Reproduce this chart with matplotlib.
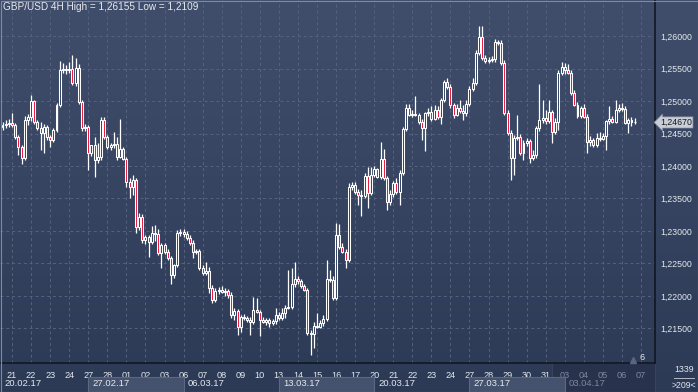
import matplotlib
matplotlib.use("Agg")
import matplotlib.pyplot as plt
import matplotlib.transforms as mtransforms
from matplotlib.colors import LinearSegmentedColormap
from matplotlib.patches import Rectangle
from matplotlib.lines import Line2D
import numpy as np
import pandas as pd

plt.rcParams['font.family'] = ['Liberation Sans', 'DejaVu Sans']

# GBP/USD 4H candles, 20.02.17 12:00 .. 06.04.17 16:00
opens = [1.2460, 1.2463, 1.2465, 1.2466, 1.2463, 1.2445, 1.2429, 1.2412, 1.2471, 1.2475,
         1.2500, 1.2468, 1.2458, 1.2451, 1.2460, 1.2445, 1.2440, 1.2455, 1.2494, 1.2548,
         1.2549, 1.2548, 1.2549, 1.2528, 1.2551, 1.2498, 1.2458, 1.2460, 1.2420, 1.2432,
         1.2409, 1.2414, 1.2471, 1.2445, 1.2429, 1.2432, 1.2434, 1.2414, 1.2426, 1.2411,
         1.2375, 1.2368, 1.2378, 1.2306, 1.2322, 1.2286, 1.2291, 1.2283, 1.2297, 1.2295,
         1.2266, 1.2278, 1.2268, 1.2258, 1.2232, 1.2248, 1.2297, 1.2298, 1.2295, 1.2289,
         1.2282, 1.2268, 1.2269, 1.2243, 1.2235, 1.2238, 1.2212, 1.2194, 1.2208, 1.2209,
         1.2206, 1.2208, 1.2202, 1.2171, 1.2177, 1.2152, 1.2168, 1.2166, 1.2163, 1.2160,
         1.2178, 1.2175, 1.2163, 1.2160, 1.2163, 1.2158, 1.2162, 1.2171, 1.2166, 1.2174,
         1.2182, 1.2183, 1.2218, 1.2226, 1.2223, 1.2215, 1.2209, 1.2143, 1.2142, 1.2154,
         1.2152, 1.2158, 1.2165, 1.2226, 1.2225, 1.2197, 1.2294, 1.2275, 1.2268, 1.2255,
         1.2368, 1.2371, 1.2360, 1.2355, 1.2354, 1.2385, 1.2358, 1.2386, 1.2395, 1.2383,
         1.2411, 1.2382, 1.2345, 1.2357, 1.2374, 1.2360, 1.2389, 1.2457, 1.2489, 1.2478,
         1.2480, 1.2478, 1.2468, 1.2458, 1.2482, 1.2483, 1.2472, 1.2486, 1.2475, 1.2502,
         1.2529, 1.2522, 1.2494, 1.2478, 1.2489, 1.2485, 1.2482, 1.2495, 1.2518, 1.2528,
         1.2574, 1.2598, 1.2566, 1.2562, 1.2563, 1.2565, 1.2591, 1.2589, 1.2558, 1.2482,
         1.2451, 1.2412, 1.2443, 1.2445, 1.2420, 1.2435, 1.2438, 1.2412, 1.2417, 1.2458,
         1.2471, 1.2474, 1.2469, 1.2483, 1.2452, 1.2468, 1.2543, 1.2552, 1.2548, 1.2543,
         1.2512, 1.2494, 1.2477, 1.2489, 1.2475, 1.2437, 1.2440, 1.2432, 1.2443, 1.2442,
         1.2446, 1.2469, 1.2472, 1.2468, 1.2486, 1.2489, 1.2488, 1.2466, 1.2471, 1.2468]
highs = [1.2468, 1.2471, 1.2472, 1.2482, 1.2466, 1.2448, 1.2432, 1.2477, 1.2480, 1.2509,
         1.2502, 1.2471, 1.2468, 1.2465, 1.2463, 1.2448, 1.2458, 1.2497, 1.2562, 1.2558,
         1.2555, 1.2560, 1.2571, 1.2566, 1.2557, 1.2502, 1.2465, 1.2463, 1.2432, 1.2445,
         1.2435, 1.2475, 1.2475, 1.2448, 1.2435, 1.2452, 1.2445, 1.2472, 1.2429, 1.2414,
         1.2382, 1.2386, 1.2382, 1.2328, 1.2326, 1.2294, 1.2294, 1.2308, 1.2309, 1.2303,
         1.2282, 1.2282, 1.2272, 1.2262, 1.2249, 1.2302, 1.2303, 1.2303, 1.2300, 1.2294,
         1.2286, 1.2272, 1.2272, 1.2248, 1.2252, 1.2245, 1.2217, 1.2212, 1.2214, 1.2215,
         1.2212, 1.2211, 1.2206, 1.2182, 1.2180, 1.2171, 1.2172, 1.2169, 1.2168, 1.2198,
         1.2197, 1.2178, 1.2168, 1.2166, 1.2166, 1.2165, 1.2182, 1.2175, 1.2182, 1.2186,
         1.2240, 1.2243, 1.2252, 1.2231, 1.2226, 1.2218, 1.2212, 1.2148, 1.2160, 1.2174,
         1.2163, 1.2171, 1.2255, 1.2240, 1.2231, 1.2312, 1.2311, 1.2282, 1.2272, 1.2374,
         1.2375, 1.2375, 1.2365, 1.2363, 1.2389, 1.2398, 1.2398, 1.2400, 1.2397, 1.2437,
         1.2426, 1.2385, 1.2363, 1.2377, 1.2382, 1.2394, 1.2460, 1.2495, 1.2495, 1.2486,
         1.2508, 1.2482, 1.2472, 1.2483, 1.2489, 1.2492, 1.2494, 1.2492, 1.2505, 1.2532,
         1.2535, 1.2526, 1.2497, 1.2495, 1.2502, 1.2494, 1.2502, 1.2523, 1.2535, 1.2578,
         1.26155, 1.2615, 1.2571, 1.2568, 1.2569, 1.2595, 1.2594, 1.2594, 1.2563, 1.2486,
         1.2455, 1.2448, 1.2478, 1.2449, 1.2440, 1.2443, 1.2442, 1.2425, 1.2462, 1.2526,
         1.2502, 1.2486, 1.2502, 1.2486, 1.2474, 1.2548, 1.2560, 1.2558, 1.2557, 1.2548,
         1.2517, 1.2498, 1.2492, 1.2495, 1.2480, 1.2446, 1.2443, 1.2451, 1.2452, 1.2451,
         1.2471, 1.2492, 1.2477, 1.2502, 1.2495, 1.2497, 1.2492, 1.2474, 1.2475, 1.2474]
lows = [1.2455, 1.2458, 1.2460, 1.2460, 1.2442, 1.2417, 1.2403, 1.2409, 1.2463, 1.2469,
        1.2465, 1.2455, 1.2425, 1.2420, 1.2440, 1.2429, 1.2437, 1.2452, 1.2491, 1.2543,
        1.2542, 1.2543, 1.2525, 1.2523, 1.2495, 1.2454, 1.2454, 1.2394, 1.2415, 1.2383,
        1.2405, 1.2409, 1.2442, 1.2426, 1.2425, 1.2428, 1.2409, 1.2412, 1.2409, 1.2368,
        1.2351, 1.2355, 1.2297, 1.2302, 1.2282, 1.2280, 1.2260, 1.2280, 1.2285, 1.2263,
        1.2243, 1.2265, 1.2255, 1.2218, 1.2228, 1.2245, 1.2292, 1.2291, 1.2286, 1.2278,
        1.2258, 1.2265, 1.2240, 1.2232, 1.2232, 1.2205, 1.2189, 1.2191, 1.2203, 1.2205,
        1.2200, 1.2197, 1.2166, 1.2163, 1.2140, 1.2145, 1.2163, 1.2160, 1.2140, 1.2157,
        1.2174, 1.2138, 1.2158, 1.2155, 1.2152, 1.2155, 1.2157, 1.2163, 1.2163, 1.2166,
        1.2180, 1.2180, 1.2214, 1.2218, 1.2212, 1.2208, 1.2140, 1.2109, 1.2120, 1.2151,
        1.2151, 1.2154, 1.2162, 1.2222, 1.2194, 1.2194, 1.2272, 1.2266, 1.2243, 1.2252,
        1.2363, 1.2357, 1.2340, 1.2323, 1.2351, 1.2335, 1.2355, 1.2383, 1.2382, 1.2380,
        1.2378, 1.2332, 1.2340, 1.2352, 1.2357, 1.2340, 1.2386, 1.2454, 1.2477, 1.2475,
        1.2477, 1.2465, 1.2440, 1.2423, 1.2477, 1.2469, 1.2471, 1.2472, 1.2465, 1.2498,
        1.2518, 1.2489, 1.2474, 1.2477, 1.2482, 1.2471, 1.2477, 1.2492, 1.2515, 1.2525,
        1.2571, 1.2563, 1.2558, 1.2558, 1.2560, 1.2560, 1.2586, 1.2555, 1.2478, 1.2448,
        1.2378, 1.2386, 1.2440, 1.2417, 1.2409, 1.2431, 1.2405, 1.2409, 1.2412, 1.2454,
        1.2466, 1.2465, 1.2466, 1.2435, 1.2449, 1.2455, 1.2540, 1.2542, 1.2542, 1.2509,
        1.2492, 1.2474, 1.2474, 1.2474, 1.2420, 1.2431, 1.2429, 1.2429, 1.2438, 1.2440,
        1.2425, 1.2465, 1.2466, 1.2466, 1.2483, 1.2485, 1.2465, 1.2451, 1.2462, 1.2465]
closes = [1.2463, 1.2465, 1.2466, 1.2463, 1.2445, 1.2429, 1.2412, 1.2471, 1.2475, 1.2500,
          1.2468, 1.2458, 1.2451, 1.2460, 1.2445, 1.2440, 1.2455, 1.2494, 1.2548, 1.2549,
          1.2548, 1.2549, 1.2528, 1.2551, 1.2498, 1.2458, 1.2460, 1.2420, 1.2432, 1.2409,
          1.2414, 1.2471, 1.2445, 1.2429, 1.2432, 1.2434, 1.2414, 1.2426, 1.2411, 1.2375,
          1.2368, 1.2378, 1.2306, 1.2322, 1.2286, 1.2291, 1.2283, 1.2297, 1.2295, 1.2266,
          1.2278, 1.2268, 1.2258, 1.2232, 1.2248, 1.2297, 1.2298, 1.2295, 1.2289, 1.2282,
          1.2268, 1.2269, 1.2243, 1.2235, 1.2238, 1.2212, 1.2194, 1.2208, 1.2209, 1.2206,
          1.2208, 1.2202, 1.2171, 1.2177, 1.2152, 1.2168, 1.2166, 1.2163, 1.2160, 1.2178,
          1.2175, 1.2163, 1.2160, 1.2163, 1.2158, 1.2162, 1.2171, 1.2166, 1.2174, 1.2182,
          1.2183, 1.2218, 1.2226, 1.2223, 1.2215, 1.2209, 1.2143, 1.2142, 1.2154, 1.2152,
          1.2158, 1.2165, 1.2226, 1.2225, 1.2197, 1.2294, 1.2275, 1.2268, 1.2255, 1.2368,
          1.2371, 1.2360, 1.2355, 1.2354, 1.2385, 1.2358, 1.2386, 1.2395, 1.2383, 1.2411,
          1.2382, 1.2345, 1.2357, 1.2374, 1.2360, 1.2389, 1.2457, 1.2489, 1.2478, 1.2480,
          1.2478, 1.2468, 1.2458, 1.2482, 1.2483, 1.2472, 1.2486, 1.2475, 1.2502, 1.2529,
          1.2522, 1.2494, 1.2478, 1.2489, 1.2485, 1.2482, 1.2495, 1.2518, 1.2528, 1.2574,
          1.2598, 1.2566, 1.2562, 1.2563, 1.2565, 1.2591, 1.2589, 1.2558, 1.2482, 1.2451,
          1.2412, 1.2443, 1.2445, 1.2420, 1.2435, 1.2438, 1.2412, 1.2417, 1.2458, 1.2471,
          1.2474, 1.2469, 1.2483, 1.2452, 1.2468, 1.2543, 1.2552, 1.2548, 1.2543, 1.2512,
          1.2494, 1.2477, 1.2489, 1.2475, 1.2437, 1.2440, 1.2432, 1.2443, 1.2442, 1.2446,
          1.2469, 1.2472, 1.2468, 1.2486, 1.2489, 1.2488, 1.2466, 1.2471, 1.2468, 1.2467]

title = "GBP/USD 4H High = 1,26155 Low = 1,2109"
price_ticks = [1.215, 1.22, 1.225, 1.23, 1.235, 1.24, 1.245, 1.25, 1.255, 1.26]
last_price = "1,24670"
bar_count = "1339"
visible_bars = ">209<"
zoom_level = "6"

W, H = 698, 392
n = len(closes)
O, Hh, L, C = map(np.array, (opens, highs, lows, closes))

# 4H bar times, weekdays only (axis also runs a few empty bars past the data)
all_times = pd.date_range("2017-02-20 12:00", "2017-04-10 00:00", freq="4h")
all_times = all_times[all_times.weekday < 5]
x_right = 205.4
axis_times = all_times[: int(x_right) + 1]

fig = plt.figure(figsize=(W / 100, H / 100), dpi=100)

bg = fig.add_axes([0, 0, 1, 1], zorder=0)
cmap = LinearSegmentedColormap.from_list("bg", ["#404e6c", "#2c3a56"])
bg.imshow(np.linspace(0, 1, 256).reshape(-1, 1), aspect="auto", cmap=cmap,
          extent=[0, 1, 0, 1], origin="upper")
bg.set_axis_off()

ax = fig.add_axes([0, (H - 363) / H, 655 / W, 363 / H], zorder=1)
ax.set_facecolor("none")
ax.set_xlim(-0.79, x_right)
ax.set_ylim(1.20969, 1.26554)

# grid
day_idx = [i for i, t in enumerate(axis_times) if t.hour == 0]
ax.set_xticks(day_idx)
ax.set_xticklabels([axis_times[i].strftime("%d") for i in day_idx])
ax.set_yticks(price_ticks)
ax.set_yticklabels([f"{v:.5f}".replace(".", ",") for v in price_ticks])
ax.grid(color="#56637f", lw=0.7, linestyle=(0, (3, 3)))
ax.set_axisbelow(True)

ax.yaxis.tick_right()
ax.tick_params(axis="y", length=0, pad=4, labelsize=6.3, labelcolor="#e4e8ee")
ax.tick_params(axis="x", length=0, pad=5.5, labelsize=6.6, labelcolor="#e4e8ee")
for s in ("top", "left"):
    ax.spines[s].set_visible(False)
for s in ("right", "bottom"):
    ax.spines[s].set_color("#111623")
    ax.spines[s].set_linewidth(1.2)

# candles
x = np.arange(n)
up = C >= O
ax.vlines(x, L, Hh, color="white", lw=0.9, zorder=3)
ax.bar(x, np.abs(C - O), bottom=np.minimum(O, C), width=0.62,
       color=np.where(up, "#34425f", "#e8163b"), edgecolor="white",
       linewidth=0.75, zorder=4)

# shaded current-week strip (below the tick labels)
trans = mtransforms.blended_transform_factory(ax.transData, fig.transFigure)
x_shade = 173
ax.add_patch(Rectangle((x_shade, 0), x_right - x_shade, 29 / H, transform=trans,
                       fc="#28324c", ec="#3a4660", lw=0.6,
                       clip_on=False, zorder=0.4))
for lbl, i in zip(ax.get_xticklabels(), day_idx):
    if i > x_shade:
        lbl.set_color("#7d879b")

# week boxes under the day row
mondays = [i for i in day_idx if axis_times[i].weekday() == 0]
edges = [ax.get_xlim()[0]] + mondays + [x_right]
week_dates = [axis_times[0].normalize() - pd.Timedelta(days=axis_times[0].weekday())]
week_dates += [axis_times[i] for i in mondays]
for k, d in enumerate(week_dates):
    x0, x1 = edges[k], edges[k + 1]
    if k % 2 == 1:
        ax.add_patch(Rectangle((x0, 0), x1 - x0, 15 / H, transform=trans,
                               fc="#45526d", ec="#5b6883", lw=0.8, clip_on=False, zorder=2))
    ax.text(x0 + 1.3, 8.5 / H, d.strftime("%d.%m.%y"), transform=trans,
            fontsize=6.8, color="#7d879b" if x0 > x_shade else "#e4e8ee",
            va="center", ha="left", clip_on=False, zorder=3)

# current price marker
ytrans = mtransforms.blended_transform_factory(ax.transAxes, ax.transData)
ax.text(1 + 5 / 655, C[-1], last_price, transform=ytrans, fontsize=6.3,
        color="#15181f", va="center", ha="left", clip_on=False, zorder=6,
        bbox=dict(boxstyle="larrow,pad=0.12", fc="#c9cdd5", ec="#8f97a7", lw=0.5))

# title and misc texts
fig.text(3 / W, 1 - 7.5 / H, title, fontsize=7.2, color="#e8ebf0",
         va="center", ha="left", zorder=3)
fig.text(640 / W, (H - 358) / H, zoom_level, fontsize=6.6, color="#e4e8ee",
         va="center", ha="left", zorder=3)
fig.add_artist(Line2D([633 / W], [(H - 359.5) / H], marker="^", ms=4,
                      color="#5a6681", transform=fig.transFigure, zorder=3))
fig.text(684 / W, (H - 370) / H, bar_count, fontsize=6.3, color="#e4e8ee",
         va="center", ha="center", zorder=3)
fig.add_artist(Line2D([674 / W, 694 / W], [(H - 377.5) / H] * 2, lw=0.6,
                      color="#c9cdd5", transform=fig.transFigure, zorder=3))
fig.text(684 / W, (H - 385) / H, visible_bars, fontsize=6.3, color="#e4e8ee",
         va="center", ha="center", zorder=3)

fig.add_artist(Rectangle((0.5 / W, 0.5 / H), 1 - 1 / W, 1 - 1 / H, fill=False,
                         ec="#7d8aa4", lw=0.8, transform=fig.transFigure, zorder=7))

fig.savefig("out.png", dpi=100)
